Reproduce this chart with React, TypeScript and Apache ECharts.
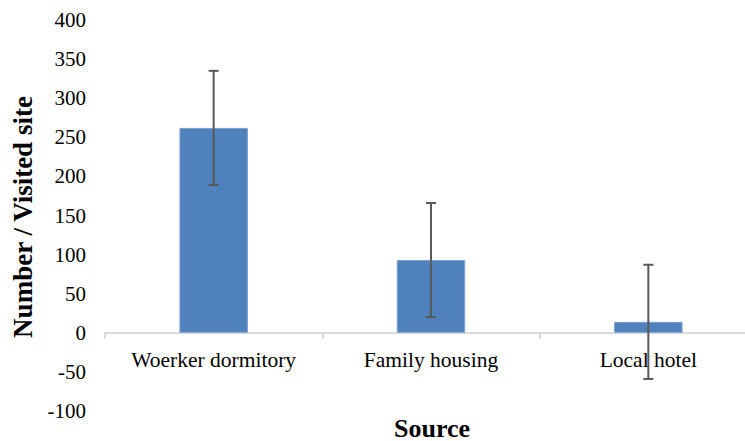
import React, { useEffect, useRef } from "react";
import * as echarts from "echarts";

const categories = ["Woerker dormitory", "Family housing", "Local hotel"];
const values = [262, 93, 14];
const errors = [73, 73, 73];
const yTicks = { min: -100, max: 400, interval: 50 };

export default function App() {
  const ref = useRef<HTMLDivElement>(null);
  useEffect(() => {
    if (!ref.current) return;
    const chart = echarts.init(ref.current, null, { renderer: "svg" });
    const errData = values.map((v, i) => [i, v - errors[i], v + errors[i]]);
    const font = "Liberation Serif";
    chart.setOption({
      animation: false,
      backgroundColor: "#ffffff",
      grid: { left: 105, right: 0, top: 20, bottom: 30, containLabel: false, outerBoundsMode: "none" },
      xAxis: {
        type: "category",
        data: categories,
        axisLine: { onZero: true, lineStyle: { color: "#d9d9d9", width: 2 } },
        axisTick: { show: true, length: 6, lineStyle: { color: "#d9d9d9", width: 2 } },
        axisLabel: { color: "#000", fontFamily: font, fontSize: 21.5, margin: -62 },
        splitLine: { show: false },
      },
      yAxis: {
        type: "value",
        min: yTicks.min,
        max: yTicks.max,
        interval: yTicks.interval,
        axisLine: { show: false },
        axisTick: { show: false },
        splitLine: { show: false },
        axisLabel: { color: "#000", fontFamily: font, fontSize: 21, margin: 19 },
      },
      graphic: [
        {
          type: "text",
          x: 23,
          y: 217,
          rotation: Math.PI / 2,
          style: {
            text: "Number / Visited site",
            fontFamily: font,
            fontWeight: "bold",
            fontSize: 27,
            fill: "#000",
            align: "center",
            verticalAlign: "middle",
          },
        },
        {
          type: "text",
          x: 432,
          y: 428,
          style: {
            text: "Source",
            fontFamily: font,
            fontWeight: "bold",
            fontSize: 26,
            lineHeight: 22,
            fill: "#000",
            align: "center",
            verticalAlign: "middle",
          },
        },
      ],
      series: [
        {
          type: "bar",
          data: values,
          barWidth: "31.5%",
          itemStyle: { color: "#4f81bd", borderColor: "#7ba0cd", borderWidth: 1 },
        },
        {
          type: "custom",
          data: errData,
          encode: { x: 0, y: [1, 2] },
          z: 5,
          renderItem: (params: any, api: any) => {
            const x = api.value(0);
            const lo = api.coord([x, api.value(1)]);
            const hi = api.coord([x, api.value(2)]);
            const cap = 5;
            const style = { stroke: "#595959", lineWidth: 2 };
            return {
              type: "group",
              children: [
                { type: "line", shape: { x1: lo[0], y1: lo[1], x2: hi[0], y2: hi[1] }, style },
                { type: "line", shape: { x1: hi[0] - cap, y1: hi[1], x2: hi[0] + cap, y2: hi[1] }, style },
                { type: "line", shape: { x1: lo[0] - cap, y1: lo[1], x2: lo[0] + cap, y2: lo[1] }, style },
              ],
            };
          },
        },
      ],
    });
    return () => chart.dispose();
  }, []);
  return (
    <div
      ref={ref}
      style={{ position: "fixed", left: 0, top: 0, width: 757, height: 441, background: "#fff" }}
    />
  );
}
